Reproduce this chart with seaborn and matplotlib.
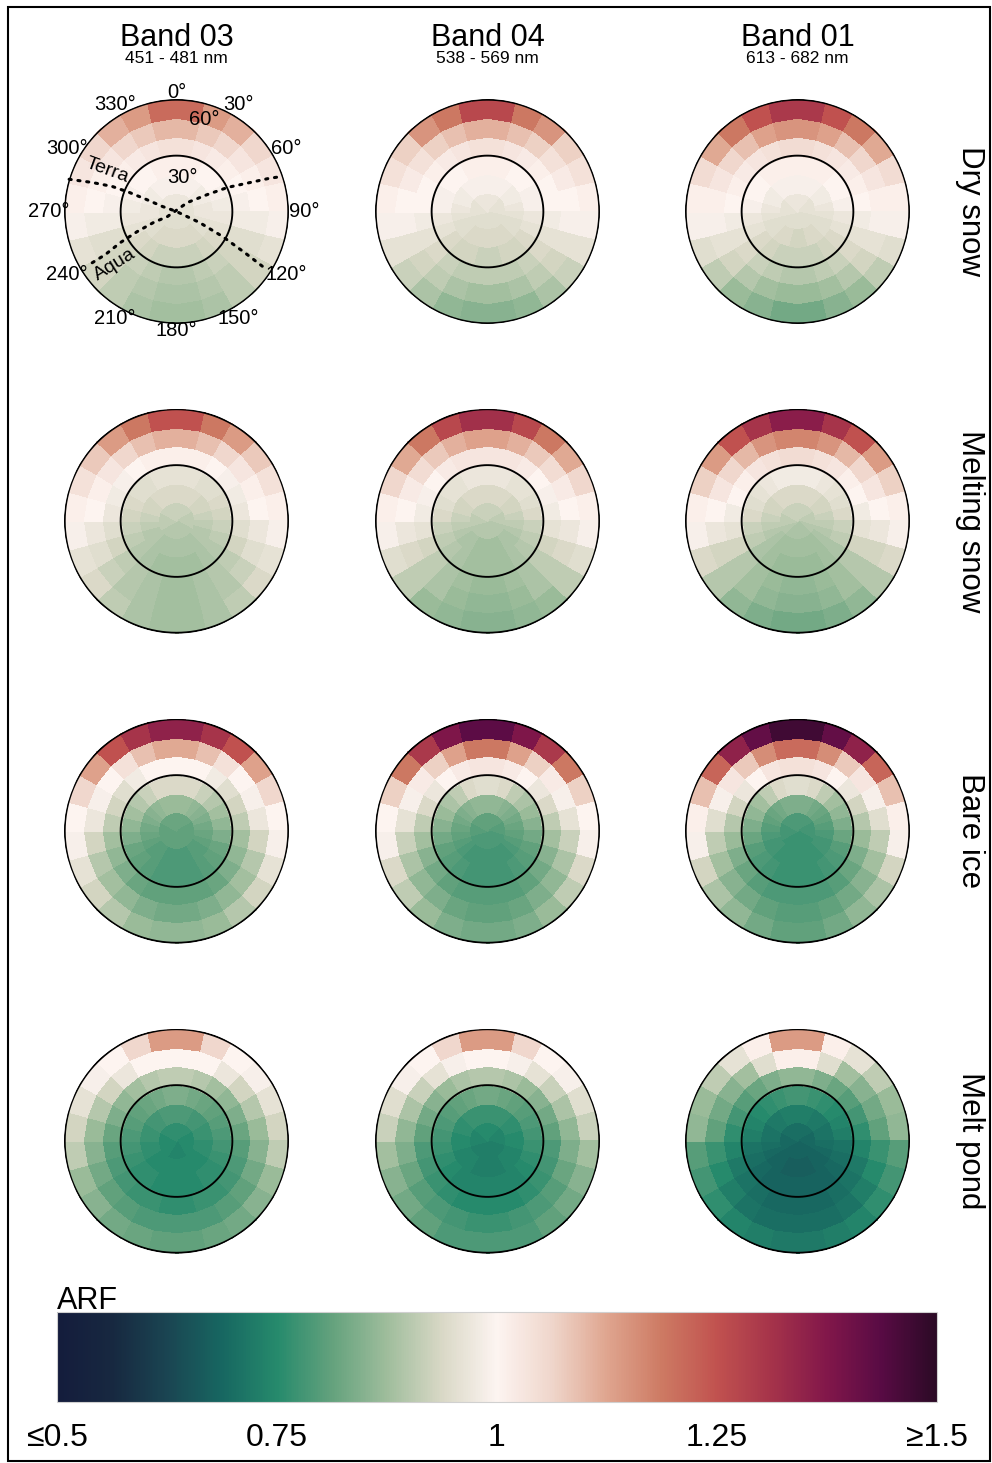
import numpy as np
import matplotlib
matplotlib.use("Agg")
import matplotlib.pyplot as plt
import seaborn as sns
from matplotlib.colors import LinearSegmentedColormap, Normalize
from matplotlib.cm import ScalarMappable
from matplotlib.patches import Rectangle

# ---------------------------------------------------------------- labels
bands = ["Band 03", "Band 04", "Band 01"]
band_ranges = ["451 - 481 nm", "538 - 569 nm", "613 - 682 nm"]
surfaces = ["Dry snow", "Melting snow", "Bare ice", "Melt pond"]

# ---------------------------------------------------------------- grid
zenith_edges = [0, 10, 20, 30, 40, 50, 60]          # view zenith rings, deg
azimuth_step = 15                                     # relative azimuth bin, deg
theta_ticks = list(range(0, 360, 30))
theta_labels = [f"{t}°" for t in theta_ticks]
zenith_circles = [30, 60]

# ARF per view-zenith ring (rows: 0-10° ... 50-60°) and relative-azimuth bin
# (columns: 0-15° ... 165-180°). The 180-360° half mirrors the principal plane.
dry_b03 = [
    [0.97, 0.97, 0.97, 0.97, 0.96, 0.96, 0.96, 0.96, 0.95, 0.95, 0.95, 0.95],
    [0.99, 0.99, 0.99, 0.98, 0.98, 0.97, 0.97, 0.96, 0.95, 0.94, 0.94, 0.94],
    [1.01, 1.01, 1.00, 1.00, 0.99, 0.98, 0.97, 0.96, 0.94, 0.93, 0.92, 0.92],
    [1.04, 1.03, 1.02, 1.01, 1.00, 0.99, 0.98, 0.95, 0.93, 0.92, 0.91, 0.90],
    [1.10, 1.08, 1.06, 1.03, 1.01, 1.00, 0.98, 0.95, 0.93, 0.91, 0.90, 0.89],
    [1.21, 1.14, 1.11, 1.06, 1.03, 1.01, 0.99, 0.96, 0.93, 0.91, 0.89, 0.88],
]
dry_b04 = [
    [0.97, 0.97, 0.97, 0.96, 0.96, 0.96, 0.96, 0.95, 0.95, 0.95, 0.95, 0.95],
    [0.99, 0.99, 0.99, 0.98, 0.98, 0.97, 0.96, 0.95, 0.95, 0.94, 0.94, 0.94],
    [1.01, 1.01, 1.00, 1.00, 0.99, 0.99, 0.97, 0.96, 0.94, 0.93, 0.93, 0.92],
    [1.04, 1.03, 1.02, 1.01, 1.00, 1.00, 0.98, 0.96, 0.94, 0.92, 0.91, 0.91],
    [1.11, 1.09, 1.07, 1.04, 1.02, 1.00, 0.99, 0.96, 0.93, 0.91, 0.89, 0.88],
    [1.27, 1.19, 1.15, 1.07, 1.04, 1.01, 0.99, 0.96, 0.92, 0.89, 0.86, 0.85],
]
dry_b01 = [
    [0.97, 0.97, 0.97, 0.96, 0.96, 0.96, 0.96, 0.95, 0.95, 0.95, 0.95, 0.95],
    [0.99, 0.99, 0.99, 0.98, 0.98, 0.97, 0.96, 0.95, 0.95, 0.94, 0.94, 0.93],
    [1.01, 1.01, 1.01, 1.00, 1.00, 0.99, 0.97, 0.96, 0.94, 0.93, 0.92, 0.92],
    [1.05, 1.04, 1.03, 1.02, 1.01, 1.00, 0.98, 0.96, 0.94, 0.92, 0.91, 0.90],
    [1.15, 1.13, 1.09, 1.06, 1.03, 1.01, 0.99, 0.96, 0.93, 0.90, 0.88, 0.87],
    [1.30, 1.25, 1.19, 1.12, 1.05, 1.01, 0.99, 0.95, 0.91, 0.87, 0.85, 0.83],
]
melting_b03 = [
    [0.92, 0.92, 0.92, 0.92, 0.91, 0.91, 0.91, 0.91, 0.90, 0.90, 0.90, 0.90],
    [0.94, 0.94, 0.94, 0.93, 0.93, 0.92, 0.91, 0.90, 0.90, 0.89, 0.89, 0.89],
    [0.96, 0.96, 0.95, 0.95, 0.94, 0.93, 0.92, 0.91, 0.90, 0.89, 0.88, 0.88],
    [1.01, 1.01, 1.00, 0.99, 0.98, 0.97, 0.95, 0.93, 0.91, 0.90, 0.89, 0.88],
    [1.11, 1.09, 1.06, 1.03, 1.01, 1.00, 0.97, 0.95, 0.92, 0.90, 0.89, 0.88],
    [1.25, 1.19, 1.14, 1.08, 1.04, 1.01, 0.99, 0.96, 0.94, 0.91, 0.89, 0.88],
]
melting_b04 = [
    [0.92, 0.92, 0.92, 0.92, 0.91, 0.91, 0.91, 0.90, 0.90, 0.90, 0.90, 0.90],
    [0.94, 0.94, 0.94, 0.93, 0.93, 0.92, 0.91, 0.90, 0.89, 0.89, 0.88, 0.88],
    [0.97, 0.97, 0.96, 0.96, 0.95, 0.94, 0.92, 0.91, 0.90, 0.89, 0.88, 0.88],
    [1.03, 1.03, 1.02, 1.00, 0.99, 0.98, 0.96, 0.93, 0.91, 0.89, 0.88, 0.87],
    [1.13, 1.11, 1.08, 1.05, 1.02, 1.00, 0.97, 0.94, 0.91, 0.89, 0.87, 0.86],
    [1.32, 1.27, 1.19, 1.12, 1.06, 1.01, 0.99, 0.95, 0.91, 0.87, 0.86, 0.85],
]
melting_b01 = [
    [0.92, 0.92, 0.92, 0.92, 0.91, 0.91, 0.91, 0.90, 0.90, 0.89, 0.89, 0.89],
    [0.94, 0.94, 0.94, 0.93, 0.93, 0.92, 0.91, 0.90, 0.89, 0.88, 0.88, 0.88],
    [0.98, 0.98, 0.97, 0.96, 0.95, 0.94, 0.92, 0.91, 0.89, 0.88, 0.87, 0.87],
    [1.05, 1.04, 1.03, 1.01, 1.00, 0.98, 0.96, 0.93, 0.90, 0.88, 0.87, 0.86],
    [1.17, 1.15, 1.10, 1.06, 1.03, 1.00, 0.97, 0.93, 0.90, 0.88, 0.86, 0.85],
    [1.36, 1.31, 1.25, 1.14, 1.07, 1.01, 0.99, 0.94, 0.90, 0.86, 0.84, 0.83],
]
bare_b03 = [
    [0.82, 0.82, 0.82, 0.82, 0.81, 0.81, 0.81, 0.81, 0.81, 0.81, 0.81, 0.81],
    [0.87, 0.87, 0.86, 0.85, 0.84, 0.83, 0.82, 0.81, 0.80, 0.80, 0.79, 0.79],
    [0.94, 0.94, 0.92, 0.90, 0.88, 0.86, 0.84, 0.82, 0.81, 0.80, 0.79, 0.79],
    [1.00, 1.00, 0.98, 0.95, 0.93, 0.91, 0.88, 0.86, 0.84, 0.82, 0.81, 0.81],
    [1.12, 1.09, 1.04, 1.00, 0.99, 0.97, 0.93, 0.90, 0.88, 0.86, 0.84, 0.83],
    [1.35, 1.31, 1.25, 1.13, 1.06, 1.00, 0.99, 0.96, 0.93, 0.90, 0.87, 0.86],
]
bare_b04 = [
    [0.81, 0.81, 0.81, 0.81, 0.80, 0.80, 0.80, 0.79, 0.79, 0.79, 0.79, 0.79],
    [0.86, 0.86, 0.85, 0.84, 0.83, 0.82, 0.81, 0.80, 0.79, 0.78, 0.78, 0.78],
    [0.95, 0.94, 0.91, 0.89, 0.87, 0.85, 0.83, 0.81, 0.80, 0.79, 0.78, 0.78],
    [1.03, 1.02, 1.00, 0.97, 0.94, 0.91, 0.88, 0.85, 0.83, 0.81, 0.80, 0.80],
    [1.19, 1.13, 1.07, 1.02, 0.99, 0.96, 0.92, 0.89, 0.86, 0.84, 0.82, 0.81],
    [1.43, 1.38, 1.30, 1.19, 1.07, 1.00, 0.99, 0.94, 0.91, 0.87, 0.84, 0.83],
]
bare_b01 = [
    [0.79, 0.79, 0.79, 0.79, 0.78, 0.78, 0.78, 0.78, 0.77, 0.77, 0.77, 0.77],
    [0.84, 0.84, 0.83, 0.82, 0.81, 0.80, 0.79, 0.78, 0.78, 0.77, 0.77, 0.77],
    [0.95, 0.94, 0.91, 0.88, 0.86, 0.84, 0.82, 0.80, 0.79, 0.78, 0.77, 0.77],
    [1.04, 1.03, 1.00, 0.97, 0.93, 0.90, 0.87, 0.84, 0.82, 0.80, 0.79, 0.79],
    [1.21, 1.16, 1.08, 1.03, 0.99, 0.95, 0.91, 0.88, 0.85, 0.83, 0.81, 0.80],
    [1.47, 1.42, 1.35, 1.22, 1.09, 1.01, 0.99, 0.93, 0.89, 0.86, 0.83, 0.81],
]
pond_b03 = [
    [0.76, 0.76, 0.76, 0.76, 0.75, 0.75, 0.75, 0.75, 0.75, 0.75, 0.74, 0.74],
    [0.79, 0.79, 0.78, 0.78, 0.77, 0.77, 0.76, 0.76, 0.75, 0.75, 0.75, 0.75],
    [0.84, 0.83, 0.82, 0.81, 0.80, 0.79, 0.78, 0.77, 0.76, 0.76, 0.75, 0.75],
    [0.91, 0.90, 0.88, 0.86, 0.84, 0.82, 0.80, 0.79, 0.78, 0.77, 0.77, 0.76],
    [1.00, 1.00, 0.97, 0.93, 0.90, 0.87, 0.85, 0.83, 0.81, 0.80, 0.79, 0.79],
    [1.14, 1.06, 1.00, 0.99, 0.96, 0.93, 0.91, 0.87, 0.85, 0.83, 0.82, 0.81],
]
pond_b04 = [
    [0.75, 0.75, 0.75, 0.74, 0.74, 0.74, 0.74, 0.73, 0.73, 0.73, 0.73, 0.73],
    [0.77, 0.77, 0.77, 0.76, 0.76, 0.75, 0.75, 0.74, 0.74, 0.74, 0.73, 0.73],
    [0.83, 0.82, 0.81, 0.80, 0.79, 0.78, 0.77, 0.76, 0.75, 0.74, 0.74, 0.74],
    [0.90, 0.89, 0.87, 0.85, 0.83, 0.81, 0.79, 0.78, 0.77, 0.76, 0.75, 0.75],
    [1.00, 0.99, 0.96, 0.92, 0.89, 0.86, 0.84, 0.82, 0.80, 0.79, 0.78, 0.77],
    [1.14, 1.06, 1.00, 0.99, 0.95, 0.92, 0.88, 0.85, 0.83, 0.81, 0.79, 0.79],
]
pond_b01 = [
    [0.70, 0.70, 0.70, 0.70, 0.69, 0.69, 0.69, 0.69, 0.68, 0.68, 0.68, 0.68],
    [0.73, 0.73, 0.72, 0.72, 0.71, 0.71, 0.70, 0.69, 0.68, 0.68, 0.67, 0.67],
    [0.78, 0.77, 0.76, 0.75, 0.74, 0.73, 0.71, 0.70, 0.69, 0.68, 0.68, 0.68],
    [0.86, 0.84, 0.82, 0.80, 0.78, 0.76, 0.74, 0.72, 0.71, 0.70, 0.69, 0.69],
    [1.01, 0.95, 0.88, 0.85, 0.83, 0.81, 0.77, 0.75, 0.73, 0.71, 0.70, 0.70],
    [1.14, 1.01, 0.96, 0.91, 0.87, 0.86, 0.80, 0.78, 0.76, 0.74, 0.73, 0.72],
]

arf = {
    "Dry snow":     [dry_b03, dry_b04, dry_b01],
    "Melting snow": [melting_b03, melting_b04, melting_b01],
    "Bare ice":     [bare_b03, bare_b04, bare_b01],
    "Melt pond":    [pond_b03, pond_b04, pond_b01],
}

# Satellite view tracks (relative azimuth deg, view zenith deg)
terra_az = [286.7, 289.0, 291.3, 292.0, 291.8, 289.7, 0.0, 115.6, 118.5, 121.1, 122.8]
terra_zen = [59.8, 47.6, 36.8, 27.2, 17.3, 8.0, 0.0, 13.7, 28.1, 42.5, 57.4]
aqua_az = [238.7, 238.8, 241.0, 242.9, 244.4, 240.9, 50.7, 61.3, 64.8, 68.6, 70.3, 71.7]
aqua_zen = [52.6, 44.5, 34.3, 23.5, 13.7, 5.5, 7.6, 18.9, 30.2, 42.6, 52.4, 59.8]

# colour scale
arf_ticks = [0.5, 0.75, 1.0, 1.25, 1.5]
arf_tick_labels = ["≤0.5", "0.75", "1", "1.25", "≥1.5"]
curl_colors = ["#141c3c", "#172840", "#1a4552", "#176761", "#268a6c",
               "#64a27d", "#9fbd9c", "#d9d8c6", "#fdf4f1", "#efd6cb",
               "#dfa58f", "#cd7a63", "#c1524f", "#a5334a", "#82174a",
               "#580b44", "#2b0a25"]

# ---------------------------------------------------------------- style
sns.set_theme(style="white")
plt.rcParams["font.family"] = ["Liberation Sans", "DejaVu Sans"]
for key in ["text.color", "axes.labelcolor", "xtick.color", "ytick.color"]:
    plt.rcParams[key] = "black"
plt.rcParams["lines.solid_capstyle"] = "butt"

cmap = LinearSegmentedColormap.from_list("curl", curl_colors, N=512)
norm = Normalize(vmin=arf_ticks[0], vmax=arf_ticks[-1])

W, H = 992, 1463
fig = plt.figure(figsize=(W / 100, H / 100), dpi=100)
fig.patch.set_facecolor("white")

col_x = [176.5, 487.5, 797.5]
row_y = [211.5, 521.0, 831.0, 1141.0]
rad = 112.5
R_MAX = zenith_edges[-1]


def px_rect(cx, cy, r):
    return [(cx - r) / W, 1 - (cy + r) / H, 2 * r / W, 2 * r / H]


theta_edges = np.radians(np.arange(0, 360 + azimuth_step, azimuth_step))
r_edges = np.array(zenith_edges, dtype=float)
circle_theta = np.linspace(0, 2 * np.pi, 721)

for i, surf in enumerate(surfaces):
    for j, band in enumerate(bands):
        half = np.array(arf[surf][j])
        full = np.hstack([half, half[:, ::-1]])
        ax = fig.add_axes(px_rect(col_x[j], row_y[i], rad), projection="polar")
        ax.pcolormesh(theta_edges, r_edges, full, cmap=cmap, norm=norm,
                      shading="flat", edgecolors="face", linewidth=0.25)
        ax.set_theta_zero_location("N")
        ax.set_theta_direction(-1)
        ax.set_ylim(0, R_MAX + 0.4)
        ax.set_xticks([])
        ax.set_yticks([])
        ax.grid(False)
        for spine in ax.spines.values():
            spine.set_visible(False)
        # zenith circles at 30° and at the 60° rim
        for zc in zenith_circles:
            ax.plot(circle_theta, np.full_like(circle_theta, zc), color="black",
                    lw=1.35, solid_joinstyle="round", zorder=3)

        if i == 0 and j == 0:
            # azimuth labels just outside the rim
            for t, lab in zip(theta_ticks, theta_labels):
                r_px = rad + 7.5 + 9 * abs(np.sin(np.radians(t)))
                ax.text(np.radians(t), r_px * R_MAX / rad, lab, fontsize=14.5,
                        ha="center", va="center", clip_on=False)
            ax.text(np.radians(10), 18.5, "30°", fontsize=14.5, ha="center", va="center")
            ax.text(np.radians(17), 51.5, "60°", fontsize=14.5, ha="center", va="center")

            ov = fig.add_axes(px_rect(col_x[j], row_y[i], rad), frameon=False)
            ov.set_xlim(-R_MAX, R_MAX)
            ov.set_ylim(-R_MAX, R_MAX)
            ov.set_aspect("equal")
            ov.axis("off")
            for az, zen in [(terra_az, terra_zen), (aqua_az, aqua_zen)]:
                az = np.radians(az)
                zen = np.array(zen)
                ov.plot(zen * np.sin(az), zen * np.cos(az), color="black",
                        lw=2.2, ls=(0, (0.7, 2.2)), dash_capstyle="round")
            ov.text(-37.2, 21.7, "Terra", rotation=-20, fontsize=14,
                    ha="center", va="center")
            ov.text(-32.7, -28.4, "Aqua", rotation=32, fontsize=14,
                    ha="center", va="center")

# column titles
for j, (band, rng) in enumerate(zip(bands, band_ranges)):
    fig.text(col_x[j] / W, 1 - 46 / H, band, fontsize=22, ha="center", va="baseline")
    fig.text(col_x[j] / W, 1 - 63 / H, rng, fontsize=12.5, ha="center", va="baseline")

# row titles
for i, surf in enumerate(surfaces):
    fig.text(970 / W, 1 - row_y[i] / H, surf, fontsize=22.5, rotation=270,
             ha="center", va="center")

# colour bar
cax = fig.add_axes([57 / W, 1 - 1402 / H, 880 / W, 90 / H])
cb = fig.colorbar(ScalarMappable(norm=norm, cmap=cmap), cax=cax,
                  orientation="horizontal", ticks=arf_ticks)
cb.set_ticklabels(arf_tick_labels)
cb.outline.set_edgecolor("#d0d0d0")
cb.outline.set_linewidth(0.8)
cax.tick_params(axis="x", direction="in", top=True, bottom=True, length=13,
                width=0.8, color="white", labelcolor="black", labelsize=23, pad=15)
fig.text(57 / W, 1 - 1309 / H, "ARF", fontsize=22, ha="left", va="baseline")

# frame around the figure
fig.patches.append(Rectangle((8 / W, 1 - 1461 / H), 982 / W, 1454 / H,
                             transform=fig.transFigure, fill=False,
                             edgecolor="black", linewidth=1.5))

fig.savefig("out.png", dpi=100)
